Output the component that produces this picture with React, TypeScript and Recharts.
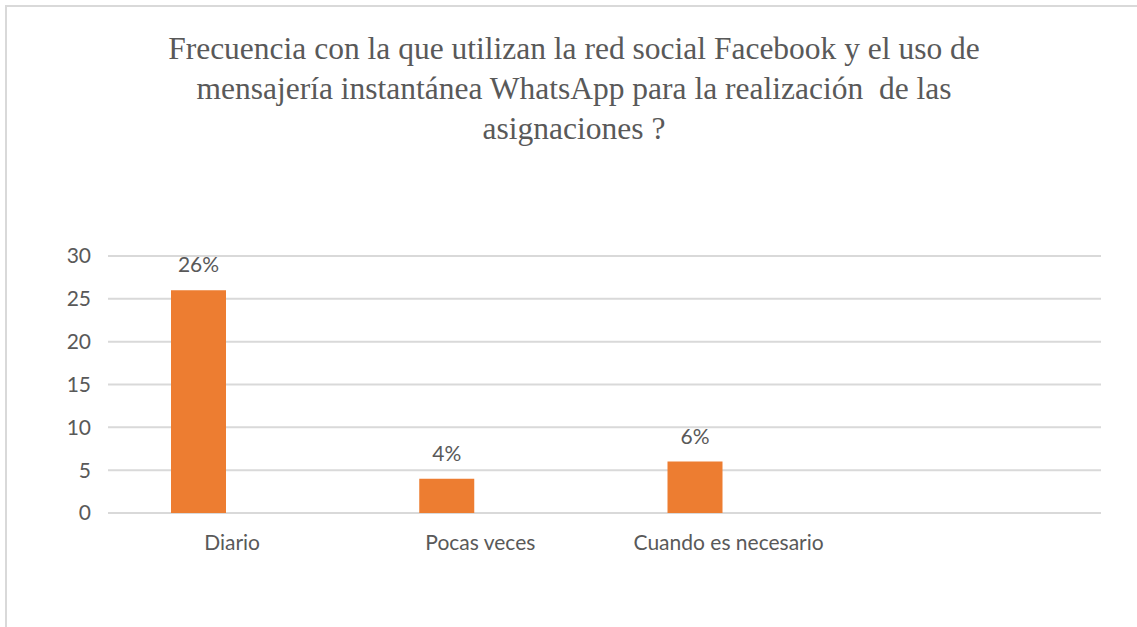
import { BarChart, Bar, XAxis, YAxis, CartesianGrid, LabelList } from 'recharts'

const categories = ['Diario', 'Pocas veces', 'Cuando es necesario', '']
const valores = [26, 4, 6, null]
// second series is empty in the original chart, it only shifts the bars left
const serie2 = [null, null, null, null]
const yTicks = [0, 5, 10, 15, 20, 25, 30]

const titleLines = [
  'Frecuencia con la que utilizan la red social Facebook y el uso de',
  'mensajería instantánea WhatsApp para la realización  de las',
  'asignaciones ?',
]

const data = categories.map((c, i) => ({ name: c, valor: valores[i], serie2: serie2[i] }))

const TEXT = '#595959'
const tickFont = { fontSize: 21, fill: TEXT, fontFamily: 'Lato, sans-serif' }

export default function App() {
  return (
    <div
      style={{
        position: 'absolute',
        left: 0,
        top: 0,
        width: 1137,
        height: 627,
        background: '#fff',
        overflow: 'hidden',
      }}
    >
      <div
        style={{
          position: 'absolute',
          left: 5,
          top: 5,
          width: 1200,
          height: 700,
          border: '2px solid #d9d9d9',
        }}
      />
      <div
        style={{
          position: 'absolute',
          left: 0,
          top: 29,
          width: 1148,
          textAlign: 'center',
          fontFamily: '"Liberation Serif", "Times New Roman", serif',
          fontSize: 31.5,
          lineHeight: '40px',
          color: TEXT,
          whiteSpace: 'pre',
        }}
      >
        {titleLines.map((l, i) => (
          <div key={i}>{l}</div>
        ))}
      </div>
      <div style={{ position: 'absolute', left: 0, top: 0 }}>
        <BarChart
          width={1137}
          height={627}
          data={data}
          margin={{ top: 256, right: 36, bottom: 54, left: 48 }}
          barGap={12}
        >
          <CartesianGrid vertical={false} stroke="#d9d9d9" strokeWidth={2} />
          <XAxis
            dataKey="name"
            axisLine={false}
            tickLine={false}
            tickSize={0}
            tickMargin={22}
            height={60}
            tick={tickFont}
            interval={0}
          />
          <YAxis
            domain={[0, 30]}
            ticks={yTicks}
            axisLine={false}
            tickLine={false}
            tickSize={0}
            tickMargin={17}
            width={60}
            tick={tickFont}
          />
          <Bar dataKey="valor" fill="#ED7D31" barSize={55} isAnimationActive={false}>
            <LabelList
              dataKey="valor"
              position="top"
              offset={18}
              formatter={(v: any) => (v == null ? '' : `${v}%`)}
              style={{ fontSize: 21, fill: TEXT, fontFamily: 'Lato, sans-serif' }}
            />
          </Bar>
          <Bar dataKey="serie2" fill="#A5A5A5" barSize={55} isAnimationActive={false} />
        </BarChart>
      </div>
    </div>
  )
}
